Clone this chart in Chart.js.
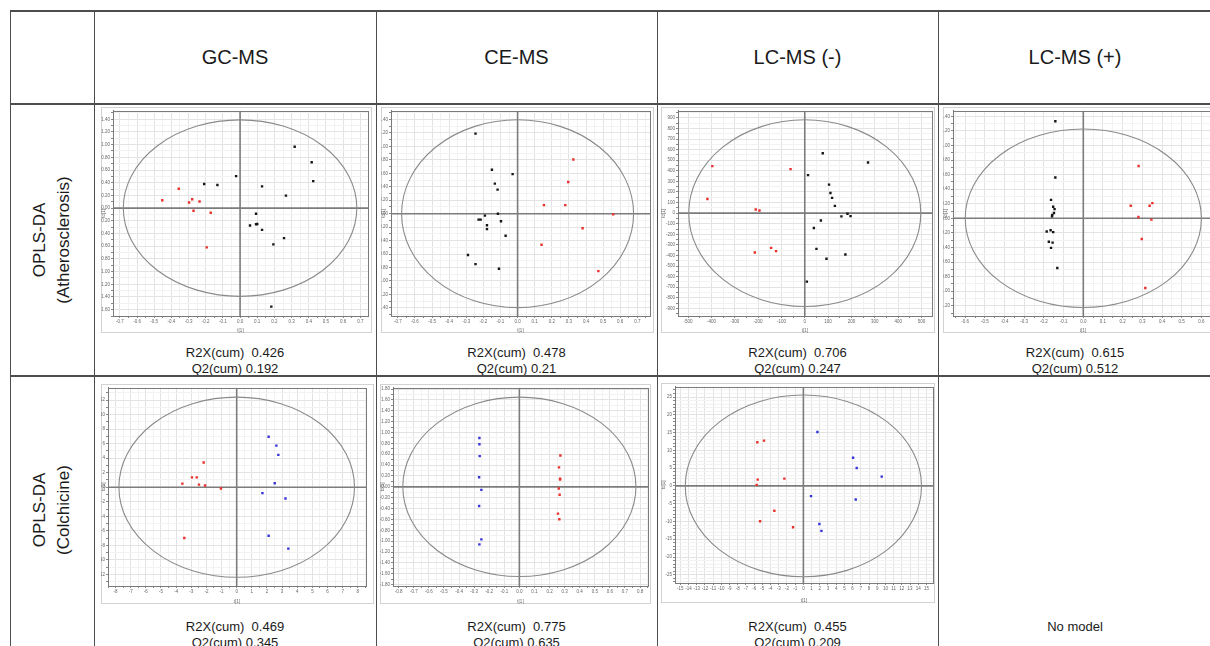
<!DOCTYPE html>
<html>
<head>
<meta charset="utf-8">
<script src="https://cdn.jsdelivr.net/npm/chart.js@4.4.1/dist/chart.umd.min.js"></script>
<style>
html,body{margin:0;padding:0;background:#fff;overflow:hidden;width:1210px;height:646px;}
#page{position:relative;width:1210px;height:646px;overflow:hidden;font-family:"Liberation Sans",Arial,sans-serif;color:#1a1a1a;}
.ln{position:absolute;background:#4d4d4d;}
.head{position:absolute;top:11px;height:93px;display:flex;align-items:center;justify-content:center;font-size:20px;}
.rowlab{position:absolute;text-align:center;font-size:17px;line-height:24px;transform:rotate(-90deg);transform-origin:center center;white-space:nowrap;}
.stat{position:absolute;text-align:center;font-size:13px;line-height:16px;white-space:pre;}
.frame{position:absolute;border:1px solid #d2d2d2;box-sizing:border-box;background:#fff;}
canvas.pc{position:absolute;}
</style>
</head>
<body>
<div id="page"></div>
<script>
// ---------- table texts ----------
const methods = ['GC-MS', 'CE-MS', 'LC-MS (-)', 'LC-MS (+)'];
const rowTitles = [['OPLS-DA', '(Atherosclerosis)'], ['OPLS-DA', '(Colchicine)']];
const r2xAth = ['0.426', '0.478', '0.706', '0.615'];
const q2Ath  = ['0.192', '0.21', '0.247', '0.512'];
const r2xCol = ['0.469', '0.775', '0.455', null];
const q2Col  = ['0.345', '0.635', '0.209', null];
const noModelText = 'No model';

// ---------- score values (t[1], to[1]) ----------
// GC-MS, atherosclerosis
const gcAthBlackX = [0.318, 0.417, 0.426, -0.023, -0.209, -0.132, 0.128, 0.267, 0.093, 0.058, 0.093, 0.100, 0.128, 0.256, 0.194, 0.182];
const gcAthBlackY = [0.966, 0.722, 0.426, 0.504, 0.379, 0.364, 0.343, 0.197, -0.088, -0.275, -0.255, -0.250, -0.343, -0.473, -0.571, -1.553];
const gcAthRedX = [-0.357, -0.453, -0.279, -0.297, -0.236, -0.271, -0.171, -0.194];
const gcAthRedY = [0.306, 0.125, 0.140, 0.088, 0.104, -0.042, -0.073, -0.618];
// CE-MS, atherosclerosis
const ceAthBlackX = [-0.246, -0.150, -0.029, -0.133, -0.117, -0.115, -0.191, -0.228, -0.216, -0.097, -0.179, -0.179, -0.070, -0.290, -0.246, -0.109];
const ceAthBlackY = [1.19, 0.652, 0.588, 0.446, 0.358, 0.0, -0.029, -0.088, -0.088, -0.113, -0.172, -0.230, -0.328, -0.613, -0.750, -0.819];
const ceAthRedX = [0.326, 0.296, 0.154, 0.279, 0.559, 0.380, 0.140, 0.472];
const ceAthRedY = [0.804, 0.471, 0.127, 0.127, -0.010, -0.216, -0.461, -0.853];
// LC-MS (-), atherosclerosis
const lcnAthBlackX = [77, 271, 14, 104, 110, 117, 129, 183, 196, 157, 69, 39, 50, 174, 93, 9];
const lcnAthBlackY = [566, 478, 359, 269, 191, 144, 69, -6, -28, -31, -69, -141, -338, -391, -431, -647];
const lcnAthRedX = [-396, -61, -417, -210, -194, -144, -123, -214];
const lcnAthRedY = [444, 416, 134, 34, 25, -328, -359, -372];
// LC-MS (+), atherosclerosis
const lcpAthBlackX = [-0.142, -0.142, -0.164, -0.153, -0.146, -0.149, -0.158, -0.159, -0.186, -0.166, -0.153, -0.175, -0.156, -0.164, -0.132];
const lcpAthBlackY = [1.332, 0.560, 0.253, 0.158, 0.126, 0.072, 0.045, 0.027, -0.181, -0.163, -0.190, -0.321, -0.334, -0.406, -0.682];
const lcpAthRedX = [0.281, 0.351, 0.337, 0.241, 0.280, 0.346, 0.297, 0.315];
const lcpAthRedY = [0.718, 0.208, 0.172, 0.172, 0.018, -0.018, -0.284, -0.957];
// GC-MS, colchicine
const gcColBlueX = [2.11, 2.62, 2.75, 2.51, 1.70, 3.22, 2.11, 3.41];
const gcColBlueY = [6.95, 5.73, 4.45, 0.55, -0.82, -1.55, -6.68, -8.45];
const gcColRedX = [-2.18, -2.95, -2.64, -3.59, -2.49, -2.09, -1.04, -3.46];
const gcColRedY = [3.41, 1.36, 1.36, 0.50, 0.36, 0.23, -0.18, -7.0];
// CE-MS, colchicine
const ceColBlueX = [-0.265, -0.265, -0.263, -0.267, -0.252, -0.267, -0.252, -0.265];
const ceColBlueY = [0.90, 0.784, 0.565, 0.176, -0.055, -0.353, -0.967, -1.058];
const ceColRedX = [0.272, 0.263, 0.270, 0.270, 0.261, 0.267, 0.256, 0.265];
const ceColRedY = [0.578, 0.359, 0.152, 0.134, -0.030, -0.146, -0.492, -0.596];
// LC-MS (-), colchicine
const lcnColBlueX = [1.71, 6.06, 6.50, 9.55, 0.93, 6.38, 1.95, 2.20];
const lcnColBlueY = [15.15, 7.90, 5.02, 2.60, -2.88, -3.81, -10.69, -12.64];
const lcnColRedX = [-4.80, -5.61, -2.32, -5.57, -5.69, -3.54, -5.28, -1.26];
const lcnColRedY = [12.73, 12.27, 2.04, 1.77, 0.28, -6.97, -9.94, -11.62];

// Hotelling T2 ellipse semi-axes (t[1], to[1]) per panel
const ellipseA = [0.68, 0.678, 497, 0.60, 7.78, 0.773, 14.4];
const ellipseB = [1.39, 1.395, 882, 1.225, 12.4, 1.65, 25.55];

// ---------- layout ----------
const page = document.getElementById('page');
function add(cls, css, html) {
  const d = document.createElement('div');
  d.className = cls; Object.assign(d.style, css);
  if (html !== undefined) d.textContent = html;
  page.appendChild(d); return d;
}
const colX = [94, 376, 657, 938, 1212];

const BLACK = '#151515', RED = '#e8302c', BLUE = '#3535d8';
const panels = [
  {frame:[101,107,271,226], box:[113,108.5,368,316], x:[-0.74,0.745,0.1,0.05,1], y:[-1.70,1.535,0.2,0.1,2],
   sets:[[gcAthBlackX,gcAthBlackY,BLACK],[gcAthRedX,gcAthRedY,RED]]},
  {frame:[381,107,273,226], box:[391,108.5,650,316], x:[-0.74,0.774,0.1,0.05,1], y:[-1.52,1.53,0.2,0.1,2],
   sets:[[ceAthBlackX,ceAthBlackY,BLACK],[ceAthRedX,ceAthRedY,RED]]},
  {frame:[661,107,274,226], box:[678,109,932,316], x:[-543,545,100,50,0], y:[-972,968,100,50,0],
   sets:[[lcnAthBlackX,lcnAthBlackY,BLACK],[lcnAthRedX,lcnAthRedY,RED]]},
  {frame:[943,107,275,226], box:[953,108,1213,316], x:[-0.662,0.659,0.1,0.05,1], y:[-1.341,1.477,0.2,0.1,2],
   sets:[[lcpAthBlackX,lcpAthBlackY,BLACK],[lcpAthRedX,lcpAthRedY,RED]]},
  {frame:[101,384,273,220], box:[108,386,366,586], x:[-8.5,8.54,1,0.5,0], y:[-13.6,13.7,2,1,0],
   sets:[[gcColBlueX,gcColBlueY,BLUE],[gcColRedX,gcColRedY,RED]]},
  {frame:[380,384,271,220], box:[393,386,648,586], x:[-0.838,0.853,0.1,0.05,1], y:[-1.824,1.824,0.2,0.1,2],
   sets:[[ceColBlueX,ceColBlueY,BLUE],[ceColRedX,ceColRedY,RED]]},
  {frame:[661,383,274,220], box:[675,385,933,583], x:[-15.65,15.8,1,1,0], y:[-27.3,27.9,5,1,0],
   sets:[[lcnColBlueX,lcnColBlueY,BLUE],[lcnColRedX,lcnColRedY,RED]]}
];
panels.forEach((p, i) => { p.ea = ellipseA[i]; p.eb = ellipseB[i]; });

panels.forEach(p => {
  add('frame', {left:p.frame[0]+'px', top:p.frame[1]+'px', width:p.frame[2]+'px', height:p.frame[3]+'px'});
});

// headers
methods.forEach((m, i) => {
  add('head', {left:colX[i]+'px', width:(colX[i+1]-colX[i])+'px'}, m);
});
// row titles
const rowCenters = [240, 510];
rowTitles.forEach((t, i) => {
  const w = 240, h = 48;
  const d = add('rowlab', {left:(52 - w/2)+'px', top:(rowCenters[i] - h/2)+'px', width:w+'px', height:h+'px'});
  d.innerHTML = t[0] + '<br>' + t[1];
});
// stats
function stat(i, r2, q2, yTop) {
  const cx0 = colX[i], w = colX[i+1]-colX[i];
  add('stat', {left:cx0+'px', width:w+'px', top:yTop+'px'}, 'R2X(cum)  ' + r2 + '\nQ2(cum) ' + q2);
}
r2xAth.forEach((v, i) => stat(i, v, q2Ath[i], 345));
r2xCol.forEach((v, i) => { if (v !== null) stat(i, v, q2Col[i], 619); else add('stat', {left:colX[i]+'px', width:(colX[i+1]-colX[i])+'px', top:'619px'}, noModelText); });

// table lines
add('ln', {left:'10px', top:'10px', width:'1200px', height:'2px'});
add('ln', {left:'10px', top:'103px', width:'1200px', height:'2px'});
add('ln', {left:'10px', top:'375px', width:'1200px', height:'2px'});
add('ln', {left:'10px', top:'10px', width:'1px', height:'640px'});
[94, 376, 657, 938].forEach(x => add('ln', {left:x+'px', top:'10px', width:'1px', height:'640px'}));

// ---------- charts ----------
function isMul(v, step) { const q = v / step; return Math.abs(q - Math.round(q)) < 1e-6; }
function makeTicks(min, max, step) {
  const out = [];
  const s = Math.ceil(min / step - 1e-9), e = Math.floor(max / step + 1e-9);
  for (let k = s; k <= e; k++) out.push({value: +(k * step).toFixed(6)});
  return out;
}
const overlay = {
  id: 'overlay',
  beforeDatasetsDraw(chart, args, opts) {
    const {ctx, chartArea: a, scales: {x, y}} = chart;
    const cx = x.getPixelForValue(0), cy = y.getPixelForValue(0);
    ctx.save();
    ctx.beginPath(); ctx.rect(a.left, a.top, a.right - a.left, a.bottom - a.top); ctx.clip();
    ctx.strokeStyle = '#7c7c7c'; ctx.lineWidth = 1.6;
    ctx.beginPath();
    ctx.moveTo(cx, a.top); ctx.lineTo(cx, a.bottom);
    ctx.moveTo(a.left, cy); ctx.lineTo(a.right, cy);
    ctx.stroke();
    ctx.strokeStyle = '#8a8a8a'; ctx.lineWidth = 1.1;
    ctx.beginPath();
    ctx.ellipse(cx, cy, Math.abs(x.getPixelForValue(opts.a) - cx), Math.abs(cy - y.getPixelForValue(opts.b)), 0, 0, Math.PI * 2);
    ctx.stroke();
    ctx.restore();
    ctx.save();
    ctx.strokeStyle = '#7a7a7a'; ctx.lineWidth = 1;
    ctx.strokeRect(Math.round(a.left) + 0.5, Math.round(a.top) + 0.5, Math.round(a.right - a.left), Math.round(a.bottom - a.top));
    ctx.restore();
  }
};
Chart.register(overlay);

panels.forEach(p => {
  const [fx, fy, fw, fh] = p.frame;
  const [bl, bt, br, bb] = p.box;
  const cv = document.createElement('canvas');
  cv.className = 'pc';
  cv.width = fw; cv.height = fh;
  cv.style.left = fx + 'px'; cv.style.top = fy + 'px';
  cv.style.width = fw + 'px'; cv.style.height = fh + 'px';
  page.appendChild(cv);
  const [xmin, xmax, xmaj, xmin2, xdec] = p.x;
  const [ymin, ymax, ymaj, ymin2, ydec] = p.y;
  const tickFont = {size: 4.5, family: 'Liberation Sans, Arial'};
  new Chart(cv.getContext('2d'), {
    type: 'scatter',
    data: {
      datasets: p.sets.map(s => ({
        data: s[0].map((v, k) => ({x: v, y: s[1][k]})),
        backgroundColor: s[2], borderColor: s[2], borderWidth: 0,
        pointStyle: 'rect', pointRadius: 1.7, pointHoverRadius: 1.7
      }))
    },
    options: {
      responsive: false, animation: false, devicePixelRatio: 1,
      layout: {padding: {left: 0, top: bt - fy, right: Math.max(0, fx + fw - br), bottom: 0}},
      plugins: {legend: {display: false}, tooltip: {enabled: false}, overlay: {a: p.ea, b: p.eb}},
      scales: {
        x: {
          type: 'linear', min: xmin, max: xmax,
          afterBuildTicks: sc => { sc.ticks = makeTicks(xmin, xmax, xmin2); },
          afterFit: sc => { sc.height = fy + fh - bb; },
          ticks: {autoSkip: false, maxRotation: 0, padding: 1, color: '#666', font: tickFont,
                  callback: v => isMul(v, xmaj) ? (+v).toFixed(xdec) : ''},
          grid: {color: c => (c.tick && isMul(c.tick.value, xmaj)) ? '#e3e3e3' : '#f2f2f2', lineWidth: 1, tickLength: 2, tickColor: '#888'},
          border: {display: true, color: '#7a7a7a'},
          title: {display: true, text: 't[1]', color: '#666', font: {size: 4.5}, padding: {top: 1, bottom: 0}}
        },
        y: {
          type: 'linear', min: ymin, max: ymax,
          afterBuildTicks: sc => { sc.ticks = makeTicks(ymin, ymax, ymin2); },
          afterFit: sc => { sc.width = bl - fx; },
          ticks: {autoSkip: false, padding: 1, color: '#666', font: tickFont,
                  callback: v => isMul(v, ymaj) ? (+v).toFixed(ydec) : ''},
          grid: {color: c => (c.tick && isMul(c.tick.value, ymaj)) ? '#e3e3e3' : '#f2f2f2', lineWidth: 1, tickLength: 2, tickColor: '#888'},
          border: {display: true, color: '#7a7a7a'},
          title: {display: true, text: 'to[1]', color: '#666', font: {size: 4.5}, padding: {top: 0, bottom: 0}}
        }
      }
    }
  });
});
</script>
</body>
</html>
